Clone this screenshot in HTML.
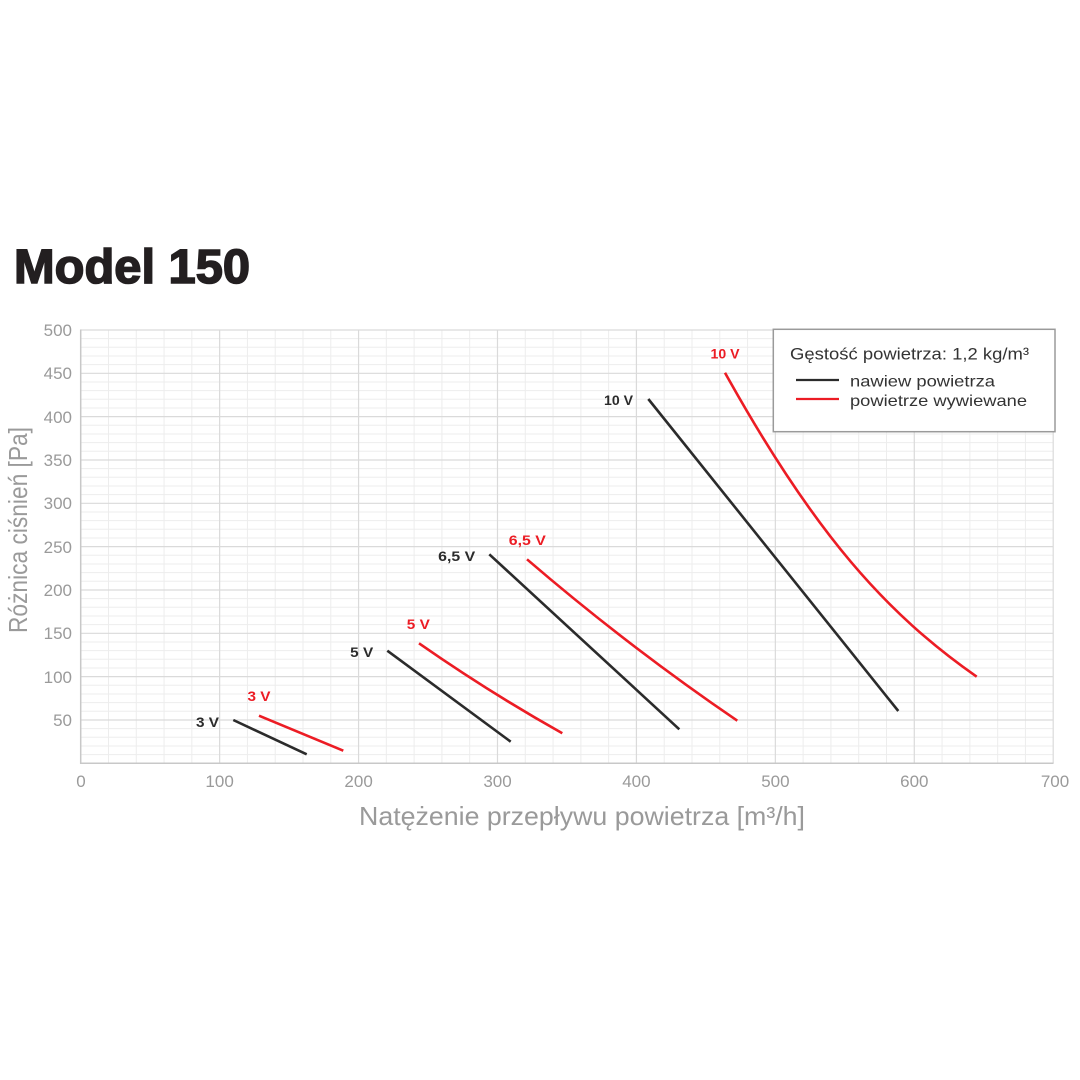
<!DOCTYPE html>
<html>
<head>
<meta charset="utf-8">
<style>
html,body{margin:0;padding:0;background:#fff;}
svg{display:block;}
</style>
</head>
<body>
<svg width="1080" height="1080" viewBox="0 0 1080 1080" xmlns="http://www.w3.org/2000/svg">
<rect width="1080" height="1080" fill="#fff"/>

<!-- Title -->
<text x="14" y="283" font-family="Liberation Sans, sans-serif" font-weight="bold" font-size="48" fill="#231f20" stroke="#231f20" stroke-width="1.6" textLength="236" lengthAdjust="spacingAndGlyphs">Model 150</text>

<!-- minor grid -->
<path fill="none" stroke="#ededed" stroke-width="1" d="
M108.49 330V763.3M136.27 330V763.3M164.06 330V763.3M191.84 330V763.3
M247.42 330V763.3M275.2 330V763.3M302.99 330V763.3M330.77 330V763.3
M386.35 330V763.3M414.13 330V763.3M441.92 330V763.3M469.7 330V763.3
M525.28 330V763.3M553.06 330V763.3M580.85 330V763.3M608.63 330V763.3
M664.21 330V763.3M691.99 330V763.3M719.78 330V763.3M747.56 330V763.3
M803.14 330V763.3M830.92 330V763.3M858.71 330V763.3M886.49 330V763.3
M942.07 330V763.3M969.85 330V763.3M997.64 330V763.3M1025.42 330V763.3
M80.7 754.63H1053.2M80.7 745.97H1053.2M80.7 737.3H1053.2M80.7 728.63H1053.2
M80.7 711.3H1053.2M80.7 702.63H1053.2M80.7 693.97H1053.2M80.7 685.3H1053.2
M80.7 667.97H1053.2M80.7 659.3H1053.2M80.7 650.63H1053.2M80.7 641.97H1053.2
M80.7 624.63H1053.2M80.7 615.97H1053.2M80.7 607.3H1053.2M80.7 598.63H1053.2
M80.7 581.3H1053.2M80.7 572.63H1053.2M80.7 563.97H1053.2M80.7 555.3H1053.2
M80.7 537.97H1053.2M80.7 529.3H1053.2M80.7 520.63H1053.2M80.7 511.97H1053.2
M80.7 494.63H1053.2M80.7 485.97H1053.2M80.7 477.3H1053.2M80.7 468.63H1053.2
M80.7 451.3H1053.2M80.7 442.63H1053.2M80.7 433.97H1053.2M80.7 425.3H1053.2
M80.7 407.97H1053.2M80.7 399.3H1053.2M80.7 390.63H1053.2M80.7 381.97H1053.2
M80.7 364.63H1053.2M80.7 355.97H1053.2M80.7 347.3H1053.2M80.7 338.63H1053.2
"/>
<!-- major grid -->
<path fill="none" stroke="#dadada" stroke-width="1.2" d="
M219.63 330V763.3M358.56 330V763.3M497.49 330V763.3M636.42 330V763.3M775.35 330V763.3M914.28 330V763.3M1053.2 330V763.3
M80.7 719.97H1053.2M80.7 676.63H1053.2M80.7 633.3H1053.2M80.7 589.97H1053.2M80.7 546.63H1053.2
M80.7 503.3H1053.2M80.7 459.97H1053.2M80.7 416.63H1053.2M80.7 373.3H1053.2M80.7 329.97H1053.2
"/>
<!-- axes -->
<path fill="none" stroke="#c8c8c8" stroke-width="1.5" d="M80.7 329.5V763.3H1053.5"/>

<!-- Y tick labels -->
<g font-family="Liberation Sans, sans-serif" font-size="17" fill="#9a9a9a" text-anchor="end">
<text x="72" y="726">50</text>
<text x="72" y="683">100</text>
<text x="72" y="639">150</text>
<text x="72" y="596">200</text>
<text x="72" y="553">250</text>
<text x="72" y="509">300</text>
<text x="72" y="466">350</text>
<text x="72" y="423">400</text>
<text x="72" y="379">450</text>
<text x="72" y="336">500</text>
</g>
<!-- X tick labels -->
<g font-family="Liberation Sans, sans-serif" font-size="17" fill="#9a9a9a" text-anchor="middle">
<text x="81" y="787">0</text>
<text x="219.6" y="787">100</text>
<text x="358.6" y="787">200</text>
<text x="497.5" y="787">300</text>
<text x="636.4" y="787">400</text>
<text x="775.4" y="787">500</text>
<text x="914.3" y="787">600</text>
<text x="1055" y="787">700</text>
</g>

<!-- Axis titles -->
<text x="359" y="825" font-family="Liberation Sans, sans-serif" font-size="26" fill="#9a9a9a" textLength="446" lengthAdjust="spacingAndGlyphs">Natężenie przepływu powietrza [m³/h]</text>
<text transform="translate(27 633) rotate(-90)" x="0" y="0" font-family="Liberation Sans, sans-serif" font-size="26" fill="#9a9a9a" textLength="206" lengthAdjust="spacingAndGlyphs">Różnica ciśnień [Pa]</text>

<!-- Curves: black (nawiew) -->
<g fill="none" stroke="#2b2b2b" stroke-width="2.6" stroke-linecap="butt">
<path d="M233.3 720L306.7 754.3"/>
<path d="M387.3 650.7L510.7 741.7"/>
<path d="M489.3 554.3L679.3 729.3"/>
<path d="M648.3 399L898.3 711"/>
</g>
<!-- Curves: red (wywiewane) -->
<g fill="none" stroke="#ec1c24" stroke-width="2.6" stroke-linecap="butt">
<path d="M259 715.7L343.3 750.7"/>
<path d="M419 643.3Q488.4 691.7 562.3 733.3"/>
<path d="M527 559.3Q627.8 646 737.3 720.7"/>
<path d="M725 372.7C815 534.7 886.7 613.7 976.7 676.7"/>
</g>

<!-- Curve labels -->
<g font-family="Liberation Sans, sans-serif" font-weight="bold" font-size="14" text-anchor="middle">
<text x="207.5" y="727" fill="#2b2b2b" textLength="23" lengthAdjust="spacingAndGlyphs">3 V</text>
<text x="259" y="701" fill="#ec1c24" textLength="23" lengthAdjust="spacingAndGlyphs">3 V</text>
<text x="361.7" y="657" fill="#2b2b2b" textLength="23" lengthAdjust="spacingAndGlyphs">5 V</text>
<text x="418.3" y="629" fill="#ec1c24" textLength="23" lengthAdjust="spacingAndGlyphs">5 V</text>
<text x="456.7" y="561" fill="#2b2b2b" textLength="37" lengthAdjust="spacingAndGlyphs">6,5 V</text>
<text x="527.3" y="545" fill="#ec1c24" textLength="37" lengthAdjust="spacingAndGlyphs">6,5 V</text>
<text x="618.5" y="405" fill="#2b2b2b" textLength="29" lengthAdjust="spacingAndGlyphs">10 V</text>
<text x="725" y="358.5" fill="#ec1c24" textLength="29" lengthAdjust="spacingAndGlyphs">10 V</text>
</g>

<!-- Legend -->
<rect x="773.3" y="329.3" width="281.7" height="102.4" fill="#fff" stroke="#9a9a9a" stroke-width="1.5"/>
<text x="790" y="359.3" font-family="Liberation Sans, sans-serif" font-size="17" fill="#333" textLength="239" lengthAdjust="spacingAndGlyphs">Gęstość powietrza: 1,2 kg/m³</text>
<line x1="796" y1="380" x2="839" y2="380" stroke="#2b2b2b" stroke-width="2.2"/>
<line x1="796" y1="399" x2="839" y2="399" stroke="#ec1c24" stroke-width="2.2"/>
<text x="850" y="386.7" font-family="Liberation Sans, sans-serif" font-size="16" fill="#333" textLength="145" lengthAdjust="spacingAndGlyphs">nawiew powietrza</text>
<text x="850" y="406" font-family="Liberation Sans, sans-serif" font-size="16" fill="#333" textLength="177" lengthAdjust="spacingAndGlyphs">powietrze wywiewane</text>
</svg>
</body>
</html>
